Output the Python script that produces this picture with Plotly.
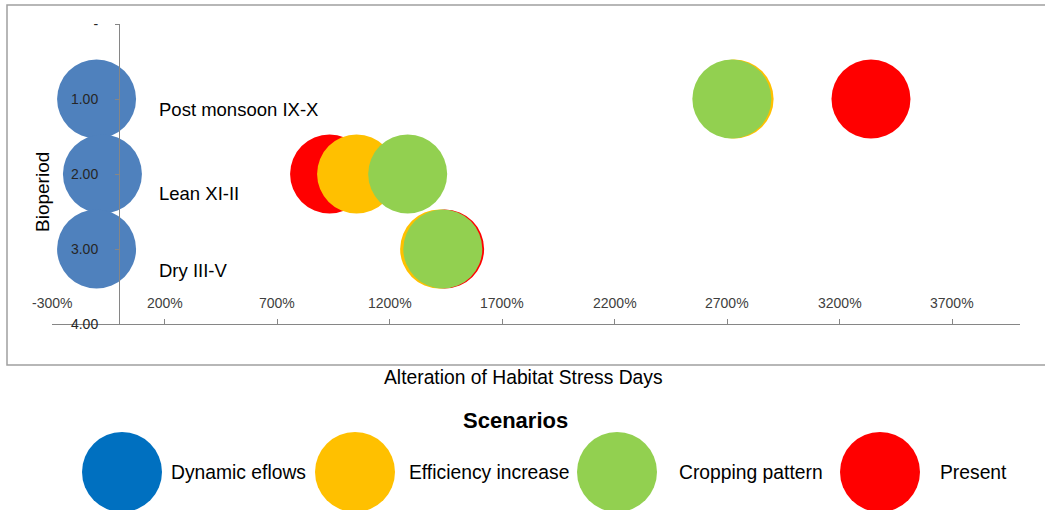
import plotly.graph_objects as go

# ---------------- data ----------------
BIOPERIODS = [1, 2, 3]
BIOPERIOD_LABELS = ["Post monsoon IX-X", "Lean XI-II", "Dry III-V"]
DYNAMIC_EFLOWS = [-102, -76, -102]          # % alteration
PRESENT = [3338, 933, 1444]
EFFICIENCY_INCREASE = [2730, 1053, 1422]
CROPPING_PATTERN = [2720, 1280, 1436]
X_TICKS = [-300, 200, 700, 1200, 1700, 2200, 2700, 3200, 3700]
X_TICK_TEXT = ["-300%", "200%", "700%", "1200%", "1700%", "2200%", "2700%", "3200%", "3700%"]
Y_TICKS = [0, 1, 2, 3, 4]
Y_TICK_TEXT = ["-", "1.00", "2.00", "3.00", "4.00"]
LEGEND_NAMES = ["Dynamic eflows", "Efficiency increase", "Cropping pattern", "Present"]

# ---------------- layout constants ----------------
W, H = 1045, 510
ML, MR, MT, MB = 52, 25, 24, 186
PW, PH = W - ML - MR, H - MT - MB


def px(x):
    return (x - ML) / PW


def py(y):
    return (H - MB - y) / PH


BLUE = "#4F81BD"
RED = "#FF0000"
YELLOW = "#FFC000"
GREEN = "#92D050"
LEGEND_BLUE = "#0070C0"
BUBBLE = 79
FONT = "Liberation Sans, Arial, sans-serif"

fig = go.Figure()
series = [
    ("Dynamic eflows", DYNAMIC_EFLOWS, BLUE),
    ("Present", PRESENT, RED),
    ("Efficiency increase", EFFICIENCY_INCREASE, YELLOW),
    ("Cropping pattern", CROPPING_PATTERN, GREEN),
]
for name, xs, col in series:
    fig.add_trace(go.Scatter(
        x=xs, y=BIOPERIODS, mode="markers", name=name,
        marker=dict(size=BUBBLE, color=col, line=dict(width=0), opacity=1),
        cliponaxis=False, showlegend=False,
    ))

annotations = []
# x tick labels (Excel draws them just above the axis line)
for v, t in zip(X_TICKS, X_TICK_TEXT):
    annotations.append(dict(
        x=v, y=py(303), xref="x", yref="paper", text=t, showarrow=False,
        xanchor="center", yanchor="middle",
        font=dict(family=FONT, size=14, color="#404040"),
    ))

# category data labels
label_dy = [10, 19, 21]
for lab, yv, dy in zip(BIOPERIOD_LABELS, BIOPERIODS, label_dy):
    annotations.append(dict(
        x=px(157), y=yv, xref="paper", yref="y", text=lab, showarrow=False,
        xanchor="left", yanchor="middle", yshift=-dy,
        font=dict(family=FONT, size=18.5, color="#000000"),
    ))

annotations.append(dict(
    x=px(42), y=py(192), xref="paper", yref="paper", text="Bioperiod",
    textangle=-90, showarrow=False, xanchor="center", yanchor="middle",
    font=dict(family=FONT, size=19, color="#000000"),
))
annotations.append(dict(
    x=px(523), y=py(377), xref="paper", yref="paper",
    text="Alteration of Habitat Stress Days", showarrow=False,
    xanchor="center", yanchor="middle",
    font=dict(family=FONT, size=19.3, color="#000000"),
))
annotations.append(dict(
    x=px(515), y=py(420), xref="paper", yref="paper",
    text="<b>Scenarios</b>", showarrow=False,
    xanchor="center", yanchor="middle",
    font=dict(family=FONT, size=22, color="#000000"),
))

shapes = []
# chart border
shapes.append(dict(type="rect", xref="paper", yref="paper",
                   x0=px(7), x1=px(1047), y0=py(5), y1=py(365),
                   line=dict(color="#A0A0A0", width=1.5), fillcolor="rgba(0,0,0,0)"))

legend_cols = [LEGEND_BLUE, YELLOW, GREEN, RED]
legend_cx = [122, 355, 617, 880]
legend_tx = [169, 407, 677, 938]
for name, col, cx, tx in zip(LEGEND_NAMES, legend_cols, legend_cx, legend_tx):
    shapes.append(dict(type="circle", xref="paper", yref="paper",
                       x0=px(cx - 40), x1=px(cx + 40), y0=py(432), y1=py(512),
                       line=dict(width=0), fillcolor=col))
    annotations.append(dict(
        x=px(tx), y=py(472), xref="paper", yref="paper", text=name,
        showarrow=False, xanchor="left", yanchor="middle",
        font=dict(family=FONT, size=19.3, color="#000000"),
    ))

fig.update_layout(
    width=W, height=H, autosize=False,
    margin=dict(l=ML, r=MR, t=MT, b=MB, pad=0),
    paper_bgcolor="white", plot_bgcolor="white",
    showlegend=False,
    annotations=annotations, shapes=shapes,
    xaxis=dict(
        range=[-300, 4000], tickvals=X_TICKS, showticklabels=False,
        showgrid=False, zeroline=False, showline=True, linecolor="#868686",
        linewidth=1, ticks="inside", ticklen=5, tickcolor="#868686",
        fixedrange=True,
    ),
    yaxis=dict(
        range=[4, 0], tickvals=Y_TICKS, ticktext=Y_TICK_TEXT,
        anchor="free", position=px(119),
        showgrid=False, zeroline=False, showline=True, linecolor="#868686",
        linewidth=1, ticks="outside", ticklen=4, tickcolor="#868686",
        ticklabelstandoff=14,
        tickfont=dict(family=FONT, size=14, color="#262626"),
        fixedrange=True,
    ),
)

fig.write_html("out.html")
